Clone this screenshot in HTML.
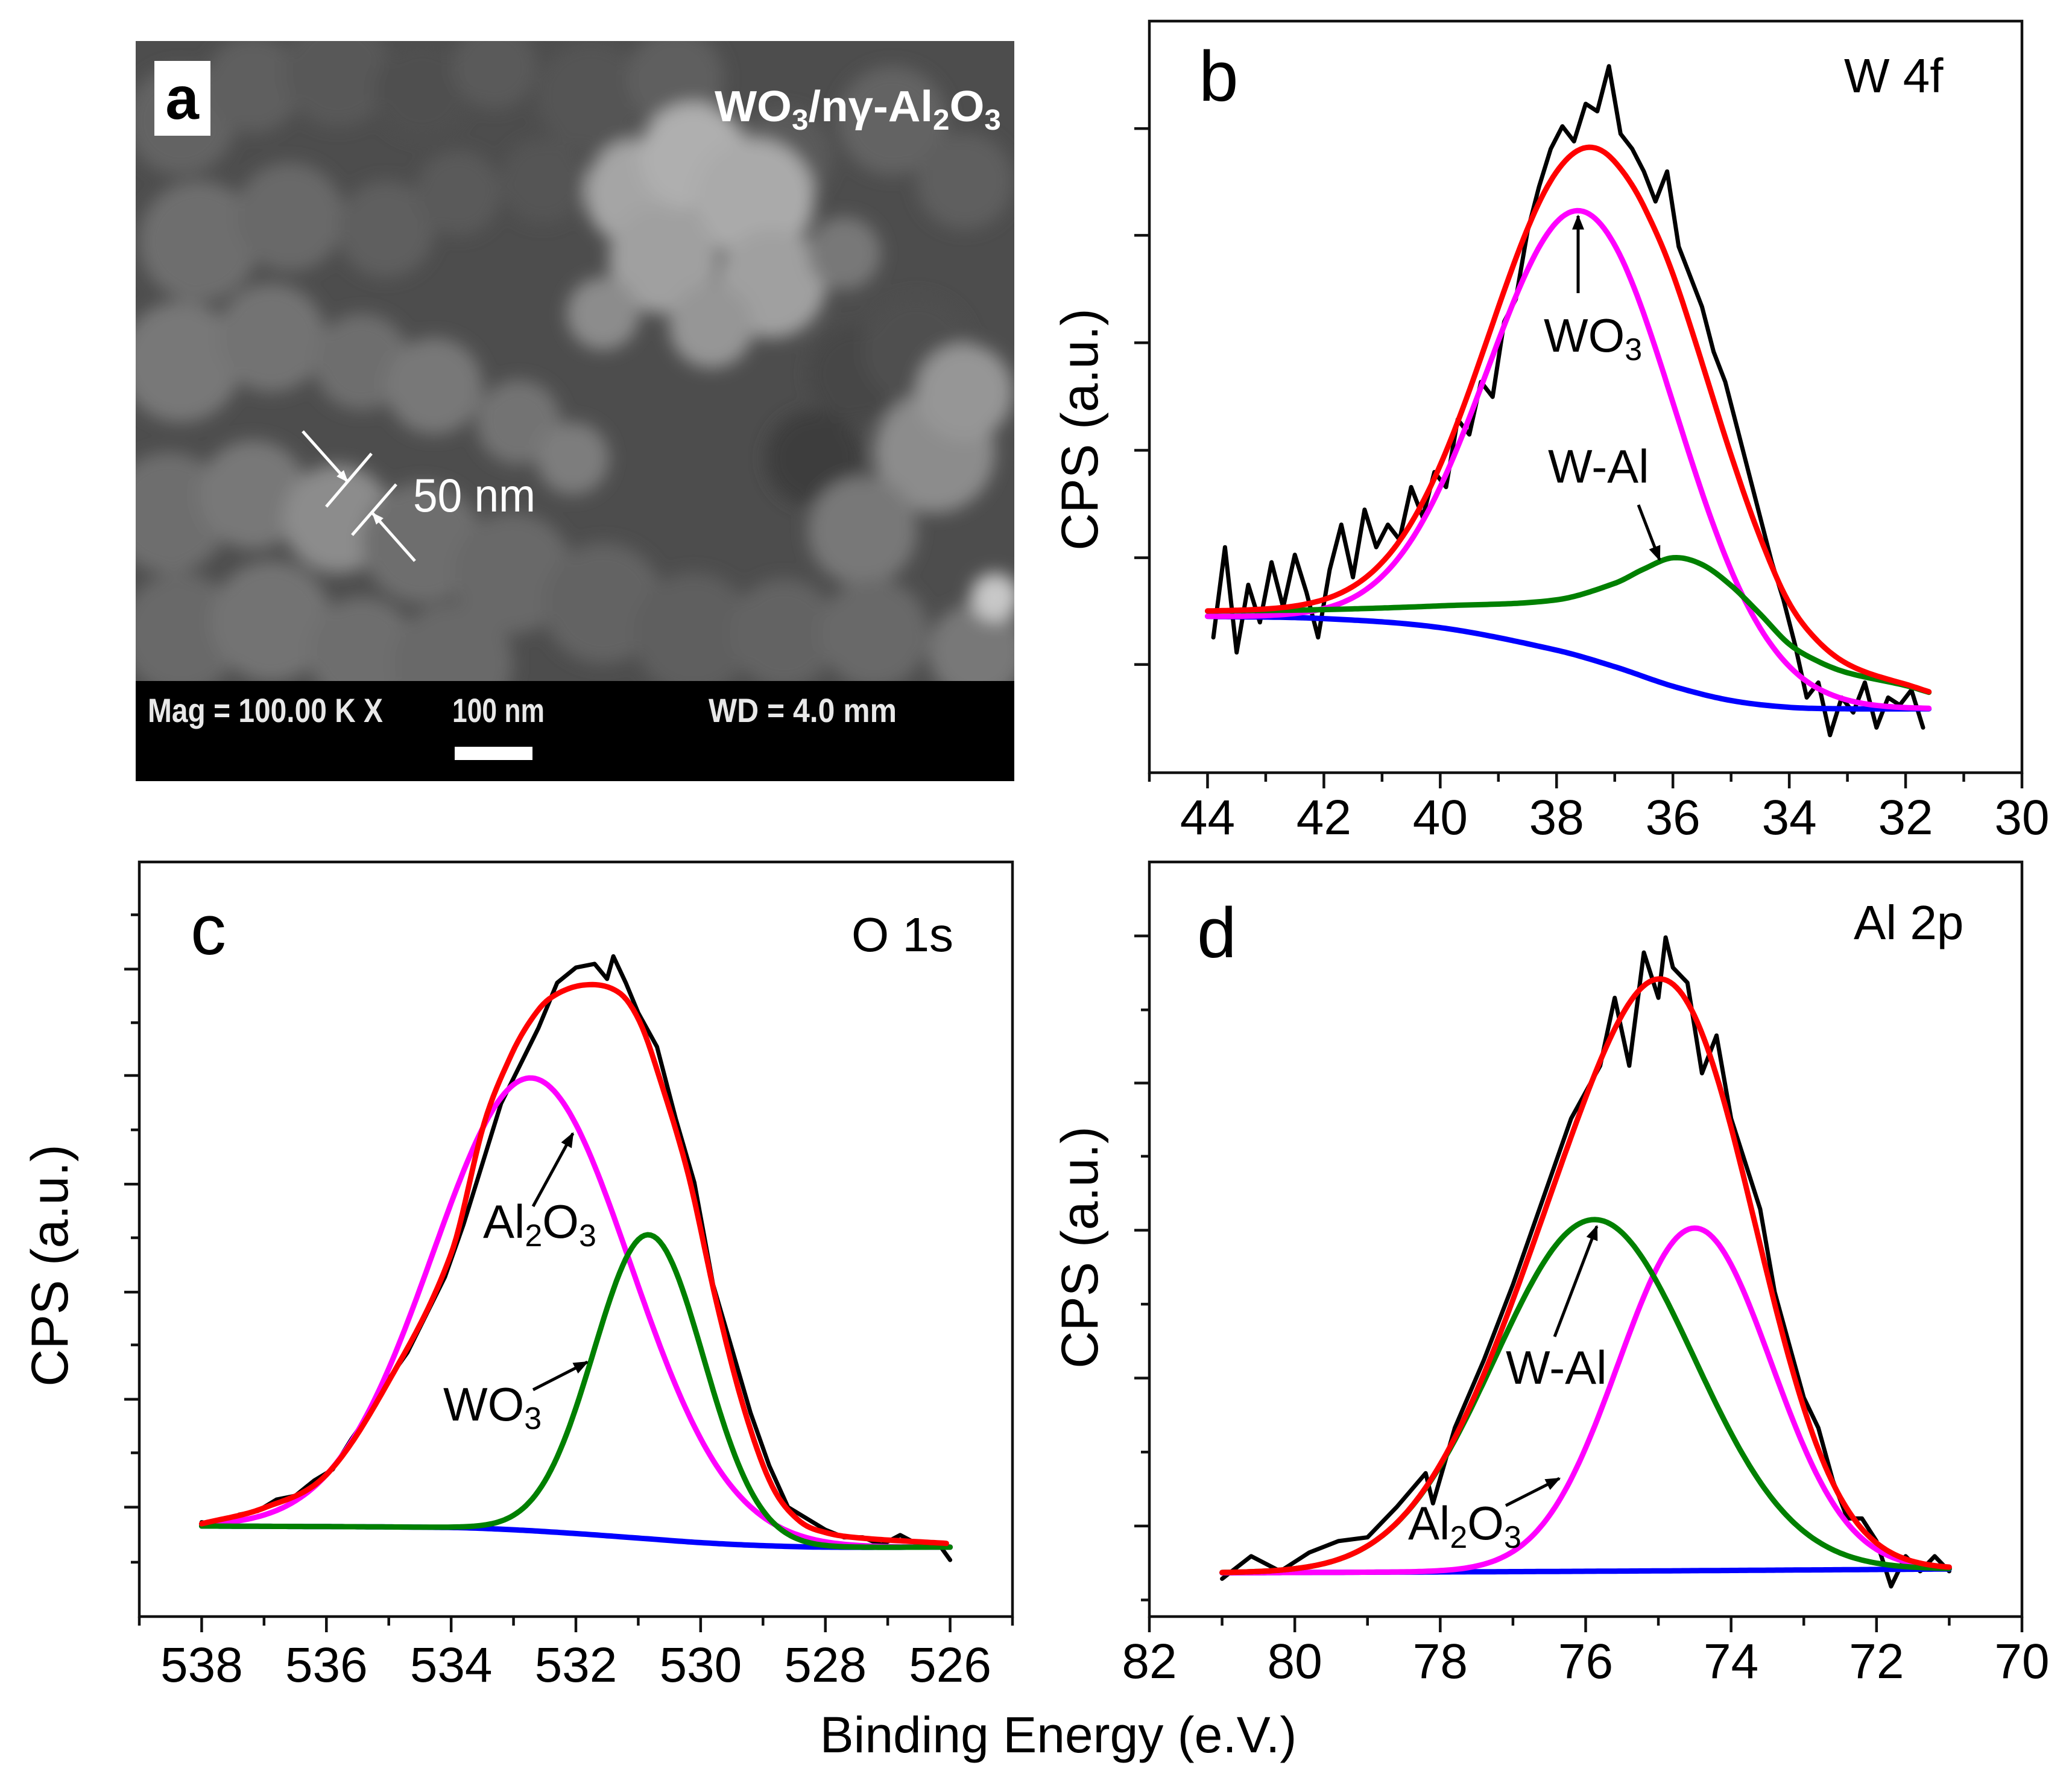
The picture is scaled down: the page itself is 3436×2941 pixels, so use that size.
<!DOCTYPE html>
<html><head><meta charset="utf-8"><title>WO3/nγ-Al2O3 SEM and XPS</title>
<style>
html,body{margin:0;padding:0;background:#fff;}
svg{display:block;}
text{font-family:"Liberation Sans",Arial,sans-serif;}
</style></head>
<body>
<svg id="fig" xmlns="http://www.w3.org/2000/svg" width="3436" height="2941" viewBox="0 0 3436 2941">
<defs>
<filter id="blur" x="-50%" y="-50%" width="200%" height="200%"><feGaussianBlur stdDeviation="14"/></filter>
<clipPath id="semclip"><rect x="225" y="68" width="1457" height="1061"/></clipPath>
<marker id="ah" viewBox="0 0 10 10" refX="9" refY="5" markerWidth="5" markerHeight="5" orient="auto"><path d="M0,1 L10,5 L0,9 z" fill="#000"/></marker>
<marker id="ahw" viewBox="0 0 10 10" refX="9" refY="5" markerWidth="4" markerHeight="4" orient="auto"><path d="M0,1 L10,5 L0,9 z" fill="#fff"/></marker>
</defs>
<rect x="0" y="0" width="3436" height="2941" fill="#fff"/>

<g id="panel-a">
  <rect x="225" y="68" width="1457" height="1227" fill="#4d4d4d"/>
  <g id="blobs" clip-path="url(#semclip)" filter="url(#blur)"></g>
  <rect x="225" y="1129" width="1457" height="166" fill="#000"/>
  <text x="245" y="1197" fill="#e8e8e8" font-size="56" font-weight="bold" textLength="390" lengthAdjust="spacingAndGlyphs">Mag =  100.00 K X</text>
  <text x="750" y="1197" fill="#e8e8e8" font-size="56" font-weight="bold" textLength="153" lengthAdjust="spacingAndGlyphs">100 nm</text>
  <rect x="754" y="1238" width="129" height="22" fill="#fff"/>
  <text x="1175" y="1197" fill="#e8e8e8" font-size="56" font-weight="bold" textLength="312" lengthAdjust="spacingAndGlyphs">WD =  4.0 mm</text>
  <rect x="256" y="101" width="93" height="124" fill="#fff"/>
  <text x="302" y="197" fill="#000" font-size="100" font-weight="bold" text-anchor="middle">a</text>
  <text x="1185" y="201" fill="#fff" font-size="72" font-weight="bold" textLength="475" lengthAdjust="spacingAndGlyphs">WO<tspan font-size="48" dy="14">3</tspan><tspan dy="-14">/nγ-Al</tspan><tspan font-size="48" dy="14">2</tspan><tspan dy="-14">O</tspan><tspan font-size="48" dy="14">3</tspan></text>
  <g stroke="#fff" stroke-width="5">
    <line x1="541" y1="840" x2="616" y2="752"/>
    <line x1="584" y1="887" x2="657" y2="803"/>
    <line x1="502" y1="715" x2="576" y2="798" marker-end="url(#ahw)"/>
    <line x1="688" y1="930" x2="618" y2="851" marker-end="url(#ahw)"/>
  </g>
  <text x="685" y="848" fill="#fff" font-size="78" textLength="203" lengthAdjust="spacingAndGlyphs">50 nm</text>
</g>

<g id="plots"></g>
<text x="1755" y="2905" font-size="84" text-anchor="middle">Binding Energy (e.V.)</text>
</svg>

<script>
// ---------- Panel b: W 4f ----------
const bRawE = [43.9,43.7,43.5,43.3,43.1,42.9,42.7,42.5,42.3,42.1,41.9,41.7,41.5,41.3,41.1,40.9,40.7,40.5,40.3,40.1,39.9,39.7,39.5,39.3,39.1,38.9,38.7,38.5,38.3,38.1,37.9,37.7,37.5,37.3,37.1,36.9,36.7,36.5,36.3,36.1,35.9,35.7,35.5,35.3,35.1,34.9,34.7,34.5,34.3,34.1,33.9,33.7,33.5,33.3,33.1,32.9,32.7,32.5,32.3,32.1,31.9,31.7];
const bRawV = [18,30,16,25,20,28,22,29,24,18,27,33,26,35,30,33,31,38,34,40,38,47,45,52,50,60,63,72,78,83,86,84,89,88,94,85,83,80,76,80,70,66,62,56,52,46,40,34,28,23,17,10,12,5,10,8,12,6,10,9,11,6];
const bBgE = [44,42,40,38,37,36,35,34,33,31.6];
const bBgV = [20.8,20.5,19.3,16.3,14.1,11.5,9.6,8.7,8.5,8.5];
const bWAlE = [44,42,40,38,37,36.5,36,35.5,35,34.5,34,33.5,33,32,31.6];
const bWAlV = [21.5,21.7,22.2,23.0,25.2,27.1,28.6,27.7,24.9,21.1,17.1,14.8,13.3,11.6,10.7];
const bWO3Peak = [37.54, 59.3, 1.62]; // center, height above background, sigma
const bTicksY = [14.4,28.6,42.9,57.2,71.5,85.7];
const bTicksXMajor = [44,42,40,38,36,34,32,30];
const bTicksXMinor = [45,43,41,39,37,35,33,31];

// ---------- Panel c: O 1s ----------
const cRawE = [538,537.7,537.4,537.1,536.8,536.5,536.2,535.9,535.6,535.3,535.0,534.7,534.4,534.1,533.8,533.5,533.2,532.9,532.6,532.3,532.0,531.7,531.5,531.4,531.2,531.0,530.7,530.4,530.1,529.8,529.5,529.2,528.9,528.6,528.3,528.0,527.7,527.4,527.1,526.8,526.5,526.2,526.0];
const cRawV = [12.5,12.0,13.5,14.0,15.5,16.0,18.0,19.5,23.5,27.0,31.5,35.0,40.0,45.0,52.0,60.0,68.0,73.0,78.0,84.0,86.0,86.5,84.5,87.5,84.0,80.0,75.5,66.0,57.5,44.0,35.5,27.0,20.0,14.5,13.0,11.5,10.5,10.5,9.5,10.8,9.5,9.8,7.5];
const cBgE = [538,534,533,532,531,530,529,528,526];
const cBgV = [12.0,11.8,11.5,11.0,10.4,9.8,9.4,9.2,9.2];
const cEnvE = [538,537,536,535,534,533.47,533.06,532.75,532.42,531.86,531.31,530.97,530.64,530.19,529.75,529.31,528.86,528.42,527.98,527.42,526.06];
const cEnvV = [12.3,14.4,18.8,31.2,48.1,65.4,74.0,78.7,81.9,83.7,82.7,78.7,70.9,58.3,41.8,27.7,17.4,12.7,11.1,10.4,9.7];
const cAl2O3Peak = [532.71, 60.0, 1.58];
const cWO3Peak = [530.83, 40.3, 0.88];
const cTicksYMajor = [14.5,28.8,43.0,57.3,71.7,85.8];
const cTicksYMinor = [7.2,21.7,36.0,50.2,64.5,78.7,93.0];
const cTicksXMajor = [538,536,534,532,530,528,526];
const cTicksXMinor = [539,537,535,533,531,529,527,525];

// ---------- Panel d: Al 2p ----------
const dRawE = [81,80.6,80.2,79.8,79.4,79.0,78.6,78.2,78.1,77.8,77.4,77.0,76.6,76.2,75.8,75.6,75.4,75.2,75.0,74.9,74.8,74.6,74.4,74.2,74.0,73.8,73.6,73.4,73.2,73.0,72.8,72.6,72.4,72.2,72.0,71.8,71.6,71.4,71.2,71.0];
const dRawV = [5,8,6,8.5,10,10.5,14.5,19,15,25,34,44,55,66,73,82,73,88,82,90,86,84,72,77,66,60,54,43,36,29,25,18,13,13,10,4,8,6,8,6];
const dBgE = [81,76,71];
const dBgV = [5.8,6.0,6.3];
const dAl2O3Peak = [74.50, 45.4, 1.05];
const dWAlPeak = [75.88, 46.6, 1.37];
const dTicksYMajor = [12.0,31.6,51.2,70.7,90.2];
const dTicksYMinor = [2.2,21.8,41.4,61.0,80.4];
const dTicksXMajor = [82,80,78,76,74,72,70];
const dTicksXMinor = [81,79,77,75,73,71];

// ---------- helpers ----------
const NS = 'http://www.w3.org/2000/svg';
const plots = document.getElementById('plots');
function mk(tag, attrs, parent) {
  const el = document.createElementNS(NS, tag);
  for (const k in attrs) el.setAttribute(k, attrs[k]);
  (parent || plots).appendChild(el);
  return el;
}
function interp(xs, ys, x) {
  const n = xs.length;
  const asc = xs[n-1] > xs[0];
  let i = 0;
  for (i = 0; i < n - 2; i++) {
    if (asc ? x <= xs[i+1] : x >= xs[i+1]) break;
  }
  const x0 = xs[i], x1 = xs[i+1];
  const t = Math.max(0, Math.min(1, (x - x0) / (x1 - x0)));
  const y0 = ys[i], y1 = ys[i+1];
  const m0 = i > 0 ? (ys[i+1] - ys[i-1]) / (xs[i+1] - xs[i-1]) * (x1 - x0) : (y1 - y0);
  const m1 = i < n - 2 ? (ys[i+2] - ys[i]) / (xs[i+2] - xs[i]) * (x1 - x0) : (y1 - y0);
  const t2 = t*t, t3 = t2*t;
  return (2*t3-3*t2+1)*y0 + (t3-2*t2+t)*m0 + (-2*t3+3*t2)*y1 + (t3-t2)*m1;
}
function gauss(p, e) { return p[1] * Math.exp(-(e - p[0]) * (e - p[0]) / (2 * p[2] * p[2])); }
function makeAxes(P) {
  P.sx = e => P.x0 + (P.eL - e) / (P.eL - P.eR) * (P.x1 - P.x0);
  P.sy = v => P.y1 - v / 100 * (P.y1 - P.y0);
}
function drawFrame(P) {
  const g = mk('g', {});
  
  
  const fr = mk('rect', {x: P.x0, y: P.y0, width: P.x1 - P.x0, height: P.y1 - P.y0, fill: 'none', stroke: '#111', 'stroke-width': 4.5}, g);
  
  
  P.tmaj.forEach(e => {
    const l = mk('line', {x1: P.sx(e), x2: P.sx(e), y1: P.y1, y2: P.y1 + 26, stroke: '#111', 'stroke-width': 4.5}, g);
    
    
    const t = mk('text', {x: P.sx(e), y: P.labY, 'font-size': 82, 'text-anchor': 'middle', fill: '#000'}, g);
    t.textContent = String(e);
    
    
  });
  P.tmin.forEach(e => {
    const l = mk('line', {x1: P.sx(e), x2: P.sx(e), y1: P.y1, y2: P.y1 + 15, stroke: '#111', 'stroke-width': 4.5}, g);
    
    
  });
  P.ymaj.forEach(v => {
    const l = mk('line', {x1: P.x0 - 25, x2: P.x0, y1: P.sy(v), y2: P.sy(v), stroke: '#111', 'stroke-width': 4.5}, g);
    
    
  });
  P.ymin.forEach(v => {
    const l = mk('line', {x1: P.x0 - 14, x2: P.x0, y1: P.sy(v), y2: P.sy(v), stroke: '#111', 'stroke-width': 4.5}, g);
    
    
  });
  const yt = mk('text', {x: 0, y: 0, 'font-size': 86, 'text-anchor': 'middle', transform: 'translate(' + P.ytX + ',' + P.ytY + ') rotate(-90)'}, g);
  yt.textContent = 'CPS (a.u.)';
  
  
}
function linePath(P, es, vs) {
  return es.map((e, i) => (i ? 'L' : 'M') + P.sx(e).toFixed(1) + ',' + P.sy(vs[i]).toFixed(1)).join(' ');
}
function fnPath(P, eStart, eEnd, f) {
  const n = 240, es = [], vs = [];
  for (let i = 0; i <= n; i++) { const e = eStart + (eEnd - eStart) * i / n; es.push(e); vs.push(f(e)); }
  return linePath(P, es, vs);
}
function curve(P, d, color, w, name) {
  const p = mk('path', {d: d, fill: 'none', stroke: color, 'stroke-width': w, 'stroke-linejoin': 'round', 'stroke-linecap': 'round'});
  
  
  return p;
}
function label(x, y, size, html, name, anchor) {
  const t = mk('text', {x: x, y: y, 'font-size': size, 'text-anchor': anchor || 'start'});
  t.innerHTML = html;
  
  
  return t;
}
function arrow(x1, y1, x2, y2, name) {
  const l = mk('line', {x1: x1, y1: y1, x2: x2, y2: y2, stroke: '#000', 'stroke-width': 5, 'marker-end': 'url(#ah)'});
  
  
}

// ---------- Panel b ----------
const PB = {name: 'w4f', x0: 1906, x1: 3353, y0: 35, y1: 1281, eL: 45, eR: 30, tmaj: bTicksXMajor, tmin: bTicksXMinor, ymaj: bTicksY, ymin: [], labY: 1383, ytX: 1820, ytY: 712};
makeAxes(PB); drawFrame(PB);
const bBg = e => interp(bBgE, bBgV, e);
const bWAl = e => interp(bWAlE, bWAlV, e);
const bWO3 = e => bBg(e) + gauss(bWO3Peak, e);
curve(PB, linePath(PB, bRawE, bRawV), '#000', 7, 'w4f-raw-spectrum');
curve(PB, fnPath(PB, 44, 31.6, bBg), '#0000ff', 9, 'w4f-background');
curve(PB, fnPath(PB, 44, 31.6, bWO3), '#ff00ff', 9, 'w4f-wo3-component');
curve(PB, fnPath(PB, 44, 31.6, bWAl), '#008000', 9, 'w4f-w-al-component');
curve(PB, fnPath(PB, 44, 31.6, e => bWO3(e) + bWAl(e) - bBg(e)), '#ff0000', 9, 'w4f-fit-envelope');
label(1988, 167, 118, 'b', 'panel-b-label');
label(3058, 153, 80, 'W 4f', 'w4f-title');
label(2560, 583, 78, 'WO<tspan font-size="52" dy="14">3</tspan>', 'w4f-wo3-annotation');
arrow(2617, 486, 2617, 358, 'w4f-wo3-arrow');
label(2567, 800, 78, 'W-Al', 'w4f-w-al-annotation');
arrow(2717, 837, 2752, 928, 'w4f-w-al-arrow');

// ---------- Panel c ----------
const PC = {name: 'o1s', x0: 231, x1: 1679, y0: 1429, y1: 2680, eL: 539, eR: 525, tmaj: cTicksXMajor, tmin: cTicksXMinor, ymaj: cTicksYMajor, ymin: cTicksYMinor, labY: 2788, ytX: 112, ytY: 2098};
makeAxes(PC); drawFrame(PC);
const cBg = e => interp(cBgE, cBgV, e);
curve(PC, linePath(PC, cRawE, cRawV), '#000', 7, 'o1s-raw-spectrum');
curve(PC, fnPath(PC, 538, 526, cBg), '#0000ff', 9, 'o1s-background');
curve(PC, fnPath(PC, 538, 526, e => cBg(e) + gauss(cAl2O3Peak, e)), '#ff00ff', 9, 'o1s-al2o3-component');
curve(PC, fnPath(PC, 538, 526, e => cBg(e) + gauss(cWO3Peak, e)), '#008000', 9, 'o1s-wo3-component');
curve(PC, fnPath(PC, 538, 526.06, e => interp(cEnvE, cEnvV, e)), '#ff0000', 9, 'o1s-fit-envelope');
label(316, 1582, 118, 'c', 'panel-c-label');
label(1412, 1577, 80, 'O 1s', 'o1s-title');
label(801, 2052, 78, 'Al<tspan font-size="52" dy="14">2</tspan><tspan dy="-14">O</tspan><tspan font-size="52" dy="14">3</tspan>', 'o1s-al2o3-annotation');
arrow(884, 2000, 950, 1879, 'o1s-al2o3-arrow');
label(735, 2355, 78, 'WO<tspan font-size="52" dy="14">3</tspan>', 'o1s-wo3-annotation');
arrow(884, 2304, 974, 2258, 'o1s-wo3-arrow');

// ---------- Panel d ----------
const PD = {name: 'al2p', x0: 1906, x1: 3353, y0: 1429, y1: 2680, eL: 82, eR: 70, tmaj: dTicksXMajor, tmin: dTicksXMinor, ymaj: dTicksYMajor, ymin: dTicksYMinor, labY: 2782, ytX: 1820, ytY: 2068};
makeAxes(PD); drawFrame(PD);
const dBg = e => interp(dBgE, dBgV, e);
curve(PD, linePath(PD, dRawE, dRawV), '#000', 7, 'al2p-raw-spectrum');
curve(PD, fnPath(PD, 81, 71, dBg), '#0000ff', 9, 'al2p-background');
curve(PD, fnPath(PD, 81, 71, e => dBg(e) + gauss(dAl2O3Peak, e)), '#ff00ff', 9, 'al2p-al2o3-component');
curve(PD, fnPath(PD, 81, 71, e => dBg(e) + gauss(dWAlPeak, e)), '#008000', 9, 'al2p-w-al-component');
curve(PD, fnPath(PD, 81, 71, e => dBg(e) + gauss(dAl2O3Peak, e) + gauss(dWAlPeak, e)), '#ff0000', 9, 'al2p-fit-envelope');
label(1985, 1587, 118, 'd', 'panel-d-label');
label(3074, 1557, 80, 'Al 2p', 'al2p-title');
label(2497, 2294, 78, 'W-Al', 'al2p-w-al-annotation');
arrow(2578, 2216, 2648, 2033, 'al2p-w-al-arrow');
label(2335, 2552, 78, 'Al<tspan font-size="52" dy="14">2</tspan><tspan dy="-14">O</tspan><tspan font-size="52" dy="14">3</tspan>', 'al2p-al2o3-annotation');
arrow(2497, 2496, 2586, 2451, 'al2p-al2o3-arrow');

// ---------- SEM texture (decorative) ----------
const semBlobs = [
 [300,200,90,100],[420,140,80,95],[560,120,90,88],[700,150,80,80],[820,110,70,90],[980,160,90,85],[1120,130,80,95],[1300,260,80,90],[1480,200,90,100],[1600,300,80,95],
 [330,400,100,110],[480,360,90,105],[640,380,80,95],[760,320,70,90],[900,300,70,85],
 [1060,320,90,165],[1150,260,90,175],[1250,330,100,170],[1100,430,90,160],[1280,470,90,160],[1180,540,70,150],[1000,520,60,140],[1400,420,60,120],
 [300,600,100,120],[450,560,90,115],[600,600,80,110],[720,640,80,120],[860,700,70,115],[950,760,60,125],
 [1420,620,80,70],[1520,580,90,80],[1350,760,80,60],[1550,750,100,140],[1600,650,80,150],[1430,880,90,120],
 [280,850,100,110],[420,820,90,120],[560,860,90,140],[700,900,100,110],[850,950,100,105],[1000,1000,100,100],[1150,1050,100,95],
 [300,1050,100,105],[450,1030,100,115],[600,1080,90,110],[750,1100,100,105],[1300,1050,90,100],[1450,1050,90,105],[1620,1080,80,120],[1650,990,40,200]
];
const blobG = document.getElementById('blobs');
semBlobs.forEach(b => {
  const c = mk('circle', {cx: b[0], cy: b[1], r: b[2], fill: 'rgb(' + b[3] + ',' + b[3] + ',' + b[3] + ')'}, blobG);
  
  
});
</script>
</body></html>
